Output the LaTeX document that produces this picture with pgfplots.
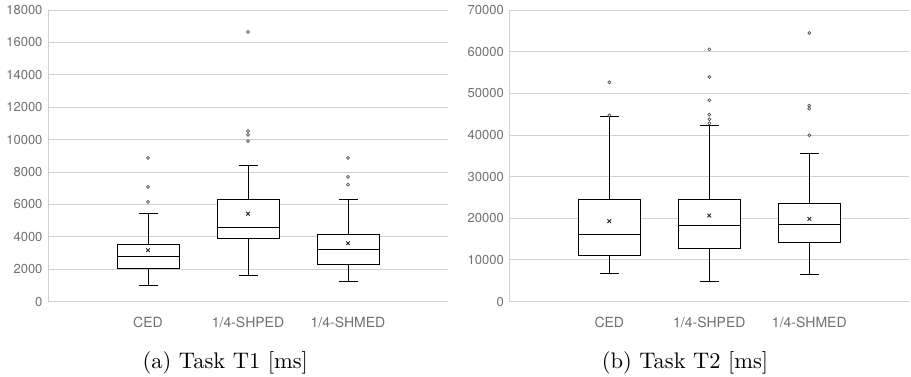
\documentclass[border=0pt]{standalone}
\usepackage{graphicx}
\usepackage{pgfplots}
\pgfplotsset{compat=1.18}
\usepackage{fontspec}
\newfontfamily\tickfont{TeX Gyre Heros}
\definecolor{gridc}{RGB}{208,208,208}
\definecolor{tickc}{RGB}{112,112,112}
\definecolor{outc}{RGB}{85,85,85}
\pgfplotsset{
 myaxis/.style={
  scale only axis, width=400pt, height=291.5pt,
  xmin=0, xmax=4, ymin=0,
  axis x line*=bottom, axis y line*=left,
  axis line style={gridc, line width=0.8pt, -},
  ymajorgrids, major grid style={gridc, line width=0.8pt},
  major tick length=0pt,
  xtick={1,2,3}, xticklabels={CED,1/4-SHPED,1/4-SHMED},
  yticklabel style={font=\tickfont\fontsize{13}{15}\selectfont, text=tickc, xshift=-2pt},
  xticklabel style={font=\tickfont\fontsize{14}{16}\selectfont, text=tickc, yshift=-12pt},
  /pgf/number format/assume math mode=true,
  /pgf/number format/1000 sep={},
  scaled y ticks=false,
  clip=false,
 },
 myline/.style={black, line width=1.0pt, mark=none, solid},
 myout/.style={only marks, mark=o, mark size=1.5pt, mark options={outc, line width=0.7pt, solid}},
 mymean/.style={only marks, mark=x, mark size=2.6pt, mark options={black!85, line width=0.9pt, solid}},
}
% #1 position, #2 lower whisker, #3 lower quartile, #4 median, #5 upper quartile, #6 upper whisker
\newcommand{\boxat}[6]{%
 \pgfmathsetmacro\xl{#1-0.31}\pgfmathsetmacro\xr{#1+0.31}%
 \pgfmathsetmacro\wl{#1-0.095}\pgfmathsetmacro\wr{#1+0.095}%
 \edef\doit{%
  \noexpand\addplot[myline, fill=white] coordinates {(\xl,#3) (\xr,#3) (\xr,#5) (\xl,#5)} -- cycle;
  \noexpand\addplot[myline] coordinates {(\xl,#4) (\xr,#4)};
  \noexpand\addplot[myline] coordinates {(#1,#5) (#1,#6)};
  \noexpand\addplot[myline] coordinates {(#1,#3) (#1,#2)};
  \noexpand\addplot[myline] coordinates {(\wl,#6) (\wr,#6)};
  \noexpand\addplot[myline] coordinates {(\wl,#2) (\wr,#2)};
 }\doit}
\begin{document}
\begin{tikzpicture}
\useasboundingbox (0,0) rectangle (911pt,377pt);
\begin{axis}[myaxis, at={(48pt,75.5pt)}, anchor=south west, ymax=18000, ytick distance=2000]
\boxat{1}{1008}{2058}{2798}{3539}{5453}
\boxat{2}{1626}{3909}{4588}{6276}{8416}
\boxat{3}{1255}{2305}{3230}{4136}{6317}
\addplot[myout] coordinates {(1,8868) (1,7078) (1,6152) (2,16646) (2,10514) (2,10288) (2,9897) (3,8868) (3,7695) (3,7222)};
\addplot[mymean] coordinates {(1,3169) (2,5412) (3,3601)};
\end{axis}
\begin{axis}[myaxis, at={(509.3pt,75.5pt)}, anchor=south west, ymax=70000, ytick distance=10000]
\boxat{1}{6800}{11120}{16160}{24560}{44480}
\boxat{2}{4880}{12800}{18320}{24560}{42320}
\boxat{3}{6560}{14240}{18560}{23440}{35600}
\addplot[myout] coordinates {(1,52640) (1,44720) (2,60560) (2,53920) (2,48320) (2,44880) (2,43760) (2,42800) (3,64480) (3,47040) (3,46320) (3,39920)};
\addplot[mymean] coordinates {(1,19280) (2,20640) (3,19840)};
\end{axis}
\node at (225.3pt,13.7pt) {\scalebox{2.25}{\fontsize{10}{12}\selectfont (a) Task T1 [ms]}};
\node at (685pt,13.7pt) {\scalebox{2.25}{\fontsize{10}{12}\selectfont (b) Task T2 [ms]}};
\end{tikzpicture}
\end{document}
